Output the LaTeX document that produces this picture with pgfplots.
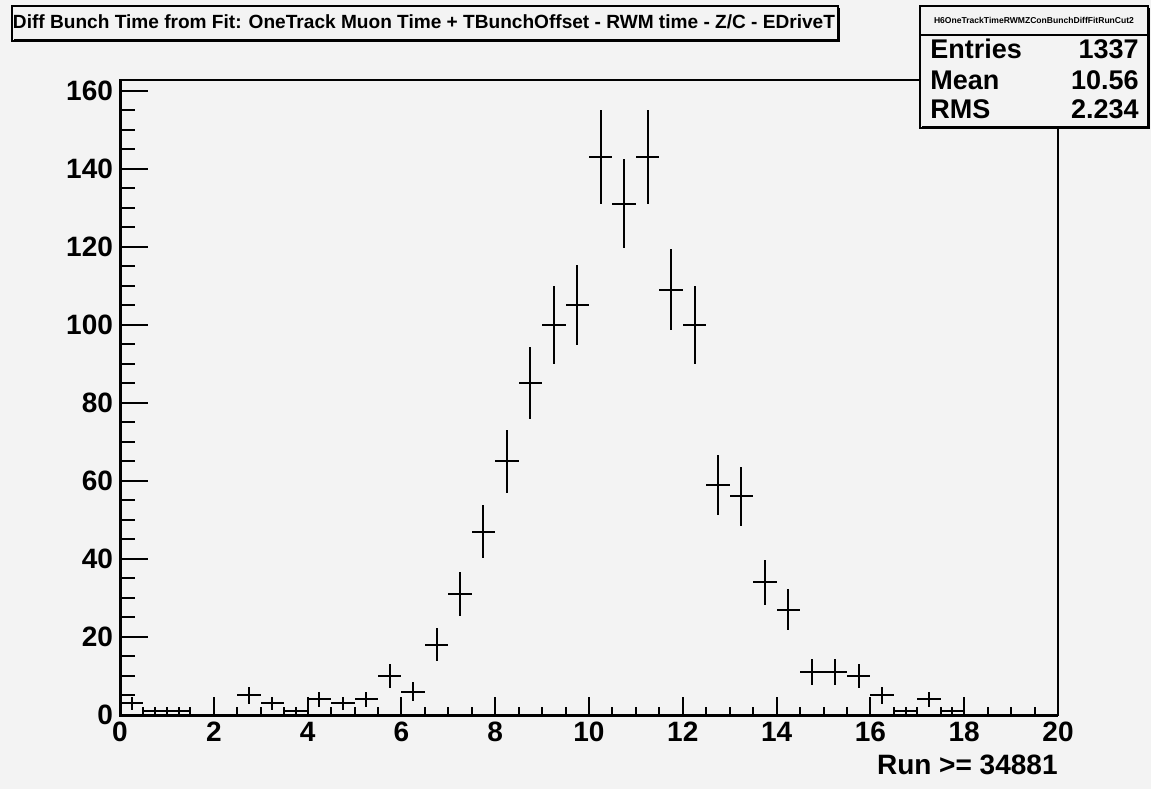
\documentclass[border=0pt]{standalone}
\usepackage{fontspec}
\setmainfont{Liberation Sans}
\usepackage{pgfplots}
\pgfplotsset{compat=1.18}
\definecolor{bg}{RGB}{243,243,243}

\begin{document}
\begin{tikzpicture}
\fill[bg] (0pt,0pt) rectangle (575.5pt,394.5pt);

% y axis, ticks and frame
\begin{axis}[
    at={(60pt,37pt)}, anchor=south west,
    scale only axis, width=469pt, height=317.5pt,
    xmin=0, xmax=20, ymin=0, ymax=162.7,
    axis line style={line width=1pt},
    xtick=\empty,
    ytick={0,20,...,160}, minor y tick num=3,
    ytick pos=left, tick align=inside,
    major tick length=14pt, minor tick length=7.5pt,
    tick style={black, line width=1pt},
    tick label style={font=\fontsize{14pt}{16pt}\selectfont\bfseries},
    /pgf/number format/assume math mode=true,
    clip=false,
]
% bin centre, content, half bin width, sqrt(N)
\addplot[draw=none, mark=none,
    error bars/.cd, x dir=both, x explicit, y dir=both, y explicit,
    error mark=none, error bar style={draw=black, line width=1pt}]
    table[x=x, y=y, x error=ex, y error=ey] {
    x      y    ex    ey
    0.25   3    0.25  1.732
    0.75   1    0.25  1
    1.25   1    0.25  1
    2.75   5    0.25  2.236
    3.25   3    0.25  1.732
    3.75   1    0.25  1
    4.25   4    0.25  2
    4.75   3    0.25  1.732
    5.25   4    0.25  2
    5.75   10   0.25  3.162
    6.25   6    0.25  2.449
    6.75   18   0.25  4.243
    7.25   31   0.25  5.568
    7.75   47   0.25  6.856
    8.25   65   0.25  8.062
    8.75   85   0.25  9.220
    9.25   100  0.25  10
    9.75   105  0.25  10.247
    10.25  143  0.25  11.958
    10.75  131  0.25  11.446
    11.25  143  0.25  11.958
    11.75  109  0.25  10.440
    12.25  100  0.25  10
    12.75  59   0.25  7.681
    13.25  56   0.25  7.483
    13.75  34   0.25  5.831
    14.25  27   0.25  5.196
    14.75  11   0.25  3.317
    15.25  11   0.25  3.317
    15.75  10   0.25  3.162
    16.25  5    0.25  2.236
    16.75  1    0.25  1
    17.25  4    0.25  2
    17.75  1    0.25  1
};
\draw[line width=1.5pt] (rel axis cs:0,1) -- (rel axis cs:0,0) -- (rel axis cs:1,0);
\node[anchor=base east, font=\fontsize{14pt}{16pt}\selectfont\bfseries, inner sep=0pt]
    at ([yshift=-29.5pt]rel axis cs:1,0) {Run >= 34881};
\end{axis}

% x ticks
\begin{axis}[
    at={(60pt,37pt)}, anchor=south west,
    scale only axis, width=469pt, height=317.5pt,
    xmin=0, xmax=20, ymin=0, ymax=162.7,
    axis line style={draw=none},
    ytick=\empty,
    xtick={0,2,...,20}, minor x tick num=3,
    xtick pos=left, tick align=inside,
    major tick length=9pt, minor tick length=4pt,
    tick style={black, line width=1pt},
    tick label style={font=\fontsize{14pt}{16pt}\selectfont\bfseries},
    /pgf/number format/assume math mode=true,
]
\end{axis}

\begin{scope}[x=0.5pt, y=0.5pt]
% title box
\fill[bg] (12,748) rectangle (838,783);
\draw[line width=1pt] (12,748) rectangle (838,783);
\draw[line width=1.5pt] (14,748) -- (838,748) -- (838,781);
\node[inner sep=0pt] at (424,767)
    {\resizebox{411pt}{!}{\bfseries Diff Bunch Time from Fit: OneTrack Muon Time + TBunchOffset - RWM time - Z/C - EDriveT}};

% stats box
\fill[bg] (920,661) rectangle (1148,783);
\draw[line width=1pt] (920,661) rectangle (1148,783);
\draw[line width=1.5pt] (922,661) -- (1148,661) -- (1148,781);
\draw[line width=1pt] (920,754) -- (1148,754);
\node[inner sep=0pt] at (1034,769)
    {\resizebox{100pt}{!}{\bfseries H6OneTrackTimeRWMZConBunchDiffFitRunCut2}};
\begin{scope}[every node/.style={inner sep=0pt, font=\fontsize{13.5pt}{15pt}\selectfont\bfseries}]
\node[anchor=base west] at (930,730) {Entries};
\node[anchor=base east] at (1139,730) {1337};
\node[anchor=base west] at (930,699) {Mean};
\node[anchor=base east] at (1139,699) {10.56};
\node[anchor=base west] at (930,670) {RMS};
\node[anchor=base east] at (1139,670) {2.234};
\end{scope}
\end{scope}
\end{tikzpicture}
\end{document}
